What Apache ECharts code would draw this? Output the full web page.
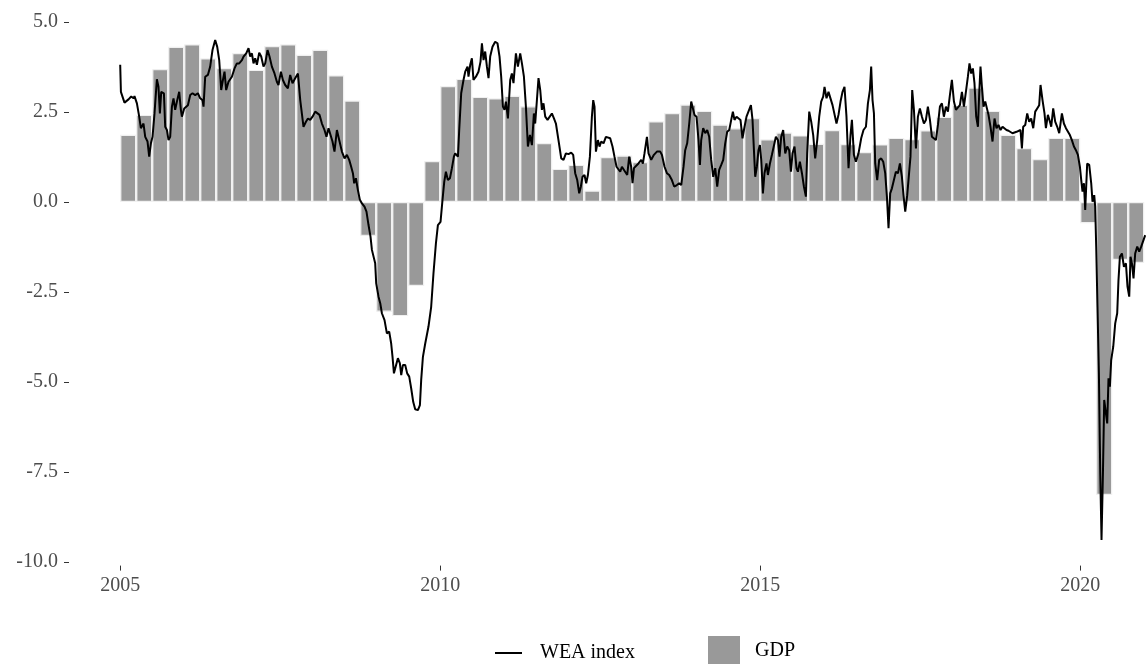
<!DOCTYPE html>
<html>
<head>
<meta charset="utf-8">
<script src="https://cdn.jsdelivr.net/npm/echarts@6/dist/echarts.min.js"></script>
<style>
  html, body { margin: 0; padding: 0; background: #fff; }
  #container { width: 1146px; height: 664px; }
</style>
</head>
<body>
<div id="container"></div>
<script>
  var dom = document.getElementById("container");
  var myChart = echarts.init(dom);

  // quarterly GDP growth, 2005Q1 .. 2020Q4
  var gdpStartYear = 2005;
  var gdp = [
      1.87, 2.42, 3.69, 4.31, 4.38, 3.99, 3.72, 4.14,
      3.67, 4.33, 4.38, 4.09, 4.23, 3.52, 2.82, -0.94,
      -3.05, -3.17, -2.33, 1.14, 3.22, 3.42, 2.92, 2.88,
      2.95, 2.66, 1.64, 0.92, 1.03, 0.32, 1.25, 1.29,
      1.11, 2.24, 2.47, 2.71, 2.53, 2.15, 2.05, 2.33,
      1.74, 1.93, 1.85, 1.62, 2.00, 1.61, 1.39, 1.60,
      1.78, 1.75, 1.99, 2.37, 2.70, 3.18, 2.53, 1.87,
      1.50, 1.19, 1.78, 1.78, -0.59, -8.14, -1.61, -1.69
  ];

  // weekly economic activity index: [decimal year, value]
  var wea = [
      [2005.000, 3.81], [2005.011, 3.06], [2005.036, 3.02], [2005.067, 2.76], [2005.130, 2.85],
      [2005.172, 2.93], [2005.208, 2.88], [2005.223, 2.94], [2005.261, 2.74], [2005.297, 2.37],
      [2005.323, 2.05], [2005.364, 2.18], [2005.391, 1.81], [2005.427, 1.68], [2005.453, 1.26],
      [2005.480, 1.63], [2005.505, 1.81], [2005.536, 2.46], [2005.573, 3.41], [2005.598, 3.20],
      [2005.620, 2.46], [2005.641, 3.06], [2005.683, 3.02], [2005.703, 2.09], [2005.730, 2.00],
      [2005.755, 1.72], [2005.781, 1.81], [2005.808, 2.65], [2005.833, 2.88], [2005.859, 2.56],
      [2005.891, 2.83], [2005.922, 3.06], [2005.948, 2.56], [2005.964, 2.37], [2006.000, 2.60],
      [2006.027, 2.56], [2006.058, 2.69], [2006.094, 2.97], [2006.130, 3.02], [2006.172, 2.97],
      [2006.214, 3.02], [2006.250, 2.88], [2006.286, 2.83], [2006.302, 2.65], [2006.328, 3.48],
      [2006.370, 3.53], [2006.406, 3.76], [2006.442, 4.22], [2006.484, 4.50], [2006.516, 4.31],
      [2006.547, 3.94], [2006.578, 3.11], [2006.605, 3.39], [2006.630, 3.62], [2006.656, 3.11],
      [2006.692, 3.34], [2006.745, 3.48], [2006.786, 3.71], [2006.823, 3.85], [2006.859, 3.85],
      [2006.902, 3.94], [2006.927, 4.04], [2006.969, 4.13], [2007.005, 4.27], [2007.031, 4.04],
      [2007.058, 4.13], [2007.083, 3.85], [2007.109, 3.99], [2007.136, 3.81], [2007.172, 4.15],
      [2007.203, 4.04], [2007.239, 3.76], [2007.266, 3.85], [2007.302, 4.22], [2007.333, 4.04],
      [2007.370, 3.76], [2007.411, 3.57], [2007.448, 3.34], [2007.473, 3.25], [2007.511, 3.62],
      [2007.542, 3.39], [2007.578, 3.25], [2007.620, 3.16], [2007.656, 3.53], [2007.692, 3.30],
      [2007.734, 3.44], [2007.777, 3.57], [2007.813, 2.83], [2007.864, 2.09], [2007.902, 2.23],
      [2007.933, 2.32], [2007.969, 2.28], [2008.005, 2.37], [2008.047, 2.51], [2008.073, 2.56],
      [2008.114, 2.42], [2008.152, 2.18], [2008.192, 2.00], [2008.223, 1.81], [2008.255, 2.05],
      [2008.286, 2.00], [2008.317, 1.68], [2008.348, 1.40], [2008.386, 2.00], [2008.422, 1.72],
      [2008.464, 1.40], [2008.505, 1.21], [2008.542, 1.31], [2008.578, 1.17], [2008.609, 0.98],
      [2008.636, 0.80], [2008.656, 0.52], [2008.683, 0.66], [2008.714, 0.33], [2008.745, 0.06],
      [2008.777, -0.04], [2008.817, -0.13], [2008.848, -0.27], [2008.880, -0.64], [2008.911, -0.96],
      [2008.933, -1.33], [2008.958, -1.29], [2008.984, -1.70], [2009.000, -2.26], [2009.036, -2.63],
      [2009.063, -2.81], [2009.089, -3.09], [2009.130, -3.28], [2009.167, -3.65], [2009.203, -3.60],
      [2009.234, -3.93], [2009.255, -4.30], [2009.277, -4.76], [2009.308, -4.76], [2009.339, -4.34],
      [2009.370, -4.48], [2009.391, -4.81], [2009.417, -4.53], [2009.453, -4.53], [2009.484, -4.76],
      [2009.516, -4.85], [2009.547, -5.18], [2009.578, -5.55], [2009.609, -5.76], [2009.652, -5.78],
      [2009.683, -5.64], [2009.703, -4.94], [2009.730, -4.30], [2009.766, -3.93], [2009.817, -3.46],
      [2009.859, -2.91], [2009.895, -1.98], [2009.933, -1.15], [2009.964, -0.64], [2010.005, -0.55],
      [2010.036, 0.06], [2010.063, 0.56], [2010.089, 0.84], [2010.120, 0.61], [2010.152, 0.66],
      [2010.183, 0.94], [2010.214, 1.26], [2010.234, 1.35], [2010.277, 1.26], [2010.297, 2.00],
      [2010.328, 3.02], [2010.364, 3.39], [2010.391, 3.62], [2010.427, 3.76], [2010.442, 3.48],
      [2010.469, 3.81], [2010.495, 3.99], [2010.520, 3.39], [2010.558, 3.48], [2010.598, 3.62],
      [2010.630, 3.90], [2010.652, 4.41], [2010.677, 3.94], [2010.703, 4.18], [2010.730, 3.76],
      [2010.755, 3.44], [2010.781, 4.04], [2010.817, 4.31], [2010.859, 4.45], [2010.895, 4.41],
      [2010.927, 4.04], [2010.953, 3.48], [2010.980, 2.65], [2011.005, 2.56], [2011.027, 2.79],
      [2011.058, 2.32], [2011.094, 3.39], [2011.120, 3.57], [2011.145, 3.30], [2011.183, 4.13],
      [2011.214, 3.76], [2011.250, 4.13], [2011.277, 3.85], [2011.308, 3.48], [2011.339, 2.65],
      [2011.370, 1.54], [2011.402, 1.86], [2011.433, 1.58], [2011.464, 2.46], [2011.484, 2.18],
      [2011.511, 2.83], [2011.536, 3.44], [2011.563, 3.11], [2011.589, 2.56], [2011.614, 2.74],
      [2011.641, 2.37], [2011.677, 2.28], [2011.708, 2.32], [2011.745, 2.46], [2011.777, 2.32],
      [2011.808, 2.18], [2011.848, 1.72], [2011.891, 1.21], [2011.927, 1.17], [2011.964, 1.35],
      [2012.005, 1.33], [2012.047, 1.37], [2012.078, 1.31], [2012.109, 0.80], [2012.141, 0.61],
      [2012.172, 0.24], [2012.198, 0.43], [2012.223, 0.70], [2012.255, 0.75], [2012.281, 0.52],
      [2012.308, 0.75], [2012.339, 1.26], [2012.370, 2.37], [2012.391, 2.83], [2012.411, 2.65],
      [2012.433, 1.40], [2012.464, 1.72], [2012.489, 1.54], [2012.516, 1.68], [2012.552, 1.63],
      [2012.589, 1.81], [2012.620, 1.86], [2012.656, 1.77], [2012.692, 1.54], [2012.723, 1.26],
      [2012.755, 0.98], [2012.786, 1.03], [2012.813, 0.84], [2012.839, 0.98], [2012.870, 1.03],
      [2012.922, 0.75], [2012.953, 1.26], [2012.984, 0.98], [2013.005, 0.52], [2013.027, 0.94],
      [2013.058, 0.98], [2013.098, 1.07], [2013.141, 1.17], [2013.167, 1.07], [2013.192, 1.35],
      [2013.230, 1.81], [2013.255, 1.35], [2013.297, 1.17], [2013.339, 1.31], [2013.386, 1.40],
      [2013.438, 1.40], [2013.464, 1.31], [2013.505, 0.98], [2013.542, 0.80], [2013.578, 0.75],
      [2013.620, 0.61], [2013.656, 0.43], [2013.698, 0.47], [2013.734, 0.52], [2013.766, 0.47],
      [2013.802, 0.98], [2013.828, 1.44], [2013.859, 1.63], [2013.891, 2.18], [2013.922, 2.79],
      [2013.948, 2.83], [2013.973, 2.42], [2014.005, 2.37], [2014.036, 1.72], [2014.058, 1.03],
      [2014.078, 1.72], [2014.109, 2.05], [2014.141, 1.91], [2014.172, 2.00], [2014.203, 1.81],
      [2014.234, 1.17], [2014.266, 0.70], [2014.297, 0.94], [2014.328, 0.43], [2014.359, 0.89],
      [2014.391, 1.03], [2014.422, 1.17], [2014.453, 1.63], [2014.484, 1.95], [2014.516, 2.00],
      [2014.547, 2.28], [2014.573, 2.51], [2014.598, 2.28], [2014.630, 2.37], [2014.661, 2.32],
      [2014.692, 2.28], [2014.723, 1.77], [2014.755, 2.09], [2014.786, 2.37], [2014.817, 2.32],
      [2014.855, 2.69], [2014.880, 2.28], [2014.902, 1.44], [2014.922, 0.70], [2014.948, 0.98],
      [2014.973, 1.44], [2014.995, 1.58], [2015.016, 1.17], [2015.042, 0.24], [2015.067, 0.80],
      [2015.098, 1.07], [2015.120, 0.75], [2015.152, 1.07], [2015.183, 1.31], [2015.214, 1.26],
      [2015.245, 1.81], [2015.277, 1.72], [2015.302, 1.26], [2015.328, 1.81], [2015.359, 2.00],
      [2015.391, 1.35], [2015.422, 1.54], [2015.453, 1.44], [2015.480, 0.84], [2015.505, 1.35],
      [2015.536, 1.54], [2015.567, 0.94], [2015.589, 0.84], [2015.620, 1.12], [2015.652, 0.80],
      [2015.683, 0.43], [2015.714, 0.15], [2015.734, 1.35], [2015.766, 2.51], [2015.797, 2.23],
      [2015.828, 1.86], [2015.859, 1.21], [2015.891, 1.72], [2015.922, 2.37], [2015.953, 2.79],
      [2015.984, 2.93], [2016.005, 3.20], [2016.036, 2.88], [2016.067, 3.06], [2016.098, 3.11],
      [2016.130, 2.69], [2016.161, 2.69], [2016.192, 2.18], [2016.223, 2.42], [2016.255, 2.79],
      [2016.286, 3.06], [2016.317, 3.20], [2016.348, 2.37], [2016.380, 0.94], [2016.411, 1.86],
      [2016.433, 2.28], [2016.464, 1.31], [2016.495, 1.12], [2016.536, 1.35], [2016.578, 1.77],
      [2016.614, 2.00], [2016.652, 2.09], [2016.683, 2.74], [2016.714, 3.11], [2016.734, 3.76],
      [2016.755, 2.83], [2016.777, 2.46], [2016.797, 1.07], [2016.828, 0.61], [2016.859, 1.17],
      [2016.891, 1.21], [2016.922, 1.12], [2016.953, 0.80], [2016.980, 0.15], [2017.005, -0.73],
      [2017.031, 0.24], [2017.058, 0.38], [2017.089, 0.61], [2017.120, 0.84], [2017.152, 0.80],
      [2017.183, 1.07], [2017.214, 0.70], [2017.239, 0.19], [2017.266, -0.27], [2017.297, 0.19],
      [2017.328, 0.15], [2017.348, 1.26], [2017.375, 3.11], [2017.402, 2.56], [2017.433, 1.49],
      [2017.464, 2.37], [2017.495, 2.60], [2017.527, 2.37], [2017.558, 2.18], [2017.589, 2.28],
      [2017.620, 2.65], [2017.652, 2.28], [2017.683, 1.81], [2017.714, 1.81], [2017.745, 1.72],
      [2017.777, 2.14], [2017.808, 2.65], [2017.839, 2.74], [2017.870, 2.37], [2017.902, 2.65],
      [2017.933, 2.51], [2017.964, 2.97], [2017.995, 3.39], [2018.027, 2.79], [2018.058, 2.56],
      [2018.089, 2.60], [2018.120, 2.69], [2018.152, 3.06], [2018.183, 2.65], [2018.214, 3.06],
      [2018.245, 3.48], [2018.270, 3.85], [2018.297, 3.57], [2018.323, 3.71], [2018.348, 3.30],
      [2018.375, 2.37], [2018.402, 2.09], [2018.422, 3.02], [2018.442, 3.76], [2018.464, 3.20],
      [2018.489, 2.65], [2018.516, 2.79], [2018.542, 2.83], [2018.567, 2.42], [2018.598, 2.09],
      [2018.630, 1.68], [2018.661, 2.32], [2018.692, 2.05], [2018.723, 2.14], [2018.755, 2.00],
      [2018.786, 2.09], [2018.817, 2.07], [2018.848, 2.00], [2018.880, 1.98], [2018.911, 1.93],
      [2018.942, 1.91], [2018.973, 1.86], [2019.005, 1.95], [2019.036, 1.91], [2019.067, 2.00],
      [2019.089, 1.49], [2019.109, 2.09], [2019.141, 2.14], [2019.172, 2.46], [2019.203, 2.23],
      [2019.234, 2.32], [2019.266, 2.05], [2019.297, 2.51], [2019.328, 2.60], [2019.359, 2.69],
      [2019.380, 3.25], [2019.411, 2.83], [2019.442, 2.46], [2019.464, 2.05], [2019.495, 2.42],
      [2019.527, 2.23], [2019.547, 2.09], [2019.578, 2.60], [2019.609, 2.23], [2019.641, 2.09],
      [2019.672, 1.91], [2019.714, 2.46], [2019.745, 2.18], [2019.777, 2.05], [2019.808, 2.00],
      [2019.839, 1.86], [2019.870, 1.72], [2019.902, 1.54], [2019.933, 1.44], [2019.964, 1.31],
      [2019.995, 0.98], [2020.016, 0.61], [2020.036, 0.29], [2020.058, 0.52], [2020.078, -0.22],
      [2020.109, 1.07], [2020.141, 1.03], [2020.172, 0.52], [2020.192, 0.01], [2020.219, 0.19],
      [2020.234, -0.13], [2020.250, -1.24], [2020.270, -2.91], [2020.292, -4.76], [2020.313, -7.54],
      [2020.333, -9.39], [2020.355, -7.54], [2020.375, -5.50], [2020.402, -5.45], [2020.422, -6.15],
      [2020.442, -4.90], [2020.464, -5.13], [2020.484, -4.39], [2020.516, -4.02], [2020.547, -3.37],
      [2020.578, -3.09], [2020.598, -2.17], [2020.620, -1.52], [2020.652, -1.43], [2020.683, -1.80],
      [2020.714, -1.70], [2020.739, -2.35], [2020.766, -2.63], [2020.786, -1.52], [2020.808, -1.70],
      [2020.833, -2.12], [2020.859, -1.43], [2020.891, -1.24], [2020.922, -1.38], [2020.953, -1.24],
      [2020.984, -1.29], [2021.016, -0.92]
  ];

  var yTicks = [-10, -7.5, -5, -2.5, 0, 2.5, 5];
  var xTicks = [2005, 2010, 2015, 2020];

  // bar centred in the middle of its quarter
  var gdpData = gdp.map(function (v, i) {
      return [gdpStartYear + i * 0.25 + 0.125, v];
  });

  var axisFont = {
      fontFamily: 'Liberation Serif',
      fontSize: 20,
      color: '#4d4d4d'
  };

  var option = {
      animation: false,
      backgroundColor: '#ffffff',
      grid: {
          left: 69,
          right: 0,
          top: 14.8,
          bottom: 98.4
      },
      legend: [{
              data: [{ name: 'WEA index', icon: 'rect' }],
              left: 495,
              top: 643,
              padding: 0,
              itemWidth: 27,
              itemHeight: 2,
              itemStyle: { color: '#000' },
              textStyle: {
                  fontFamily: 'Liberation Serif',
                  fontSize: 20,
                  color: '#000',
                  padding: [0, 0, 0, 13]
              }
          },
          {
              data: [{ name: 'GDP', icon: 'rect' }],
              left: 708,
              top: 636,
              padding: 0,
              itemWidth: 32,
              itemHeight: 30,
              itemStyle: { color: '#999999', borderWidth: 0 },
              textStyle: {
                  fontFamily: 'Liberation Serif',
                  fontSize: 20,
                  color: '#000',
                  padding: [0, 0, 0, 10]
              }
          }
      ],
      xAxis: {
          type: 'value',
          min: 2004.2,
          max: 2021.028,
          axisLine: { show: false, onZero: false },
          splitLine: { show: false },
          axisTick: {
              show: true,
              length: 5,
              customValues: xTicks,
              lineStyle: { color: '#333', width: 1 }
          },
          axisLabel: {
              customValues: xTicks,
              margin: 10,
              formatter: function (v) { return String(v); },
              fontFamily: axisFont.fontFamily,
              fontSize: axisFont.fontSize,
              color: axisFont.color
          }
      },
      yAxis: {
          type: 'value',
          min: -10.1,
          max: 5.2,
          axisLine: { show: false, onZero: false },
          splitLine: { show: false },
          axisTick: {
              show: true,
              length: 5,
              customValues: yTicks,
              lineStyle: { color: '#333', width: 1 }
          },
          axisLabel: {
              customValues: yTicks,
              margin: 11,
              formatter: function (v) { return v.toFixed(1); },
              fontFamily: axisFont.fontFamily,
              fontSize: axisFont.fontSize,
              color: axisFont.color
          }
      },
      series: [{
              name: 'GDP',
              type: 'bar',
              data: gdpData,
              barWidth: 16,
              itemStyle: {
                  color: '#999999',
                  borderColor: '#f0f0f0',
                  borderWidth: 1.2
              },
              z: 1
          },
          {
              name: 'WEA index',
              type: 'line',
              data: wea,
              symbol: 'none',
              lineStyle: { color: '#000', width: 2 },
              itemStyle: { color: '#000' },
              z: 3
          }
      ]
  };

  if (option && typeof option === "object") {
      myChart.setOption(option, true);
  }
</script>
</body>
</html>
